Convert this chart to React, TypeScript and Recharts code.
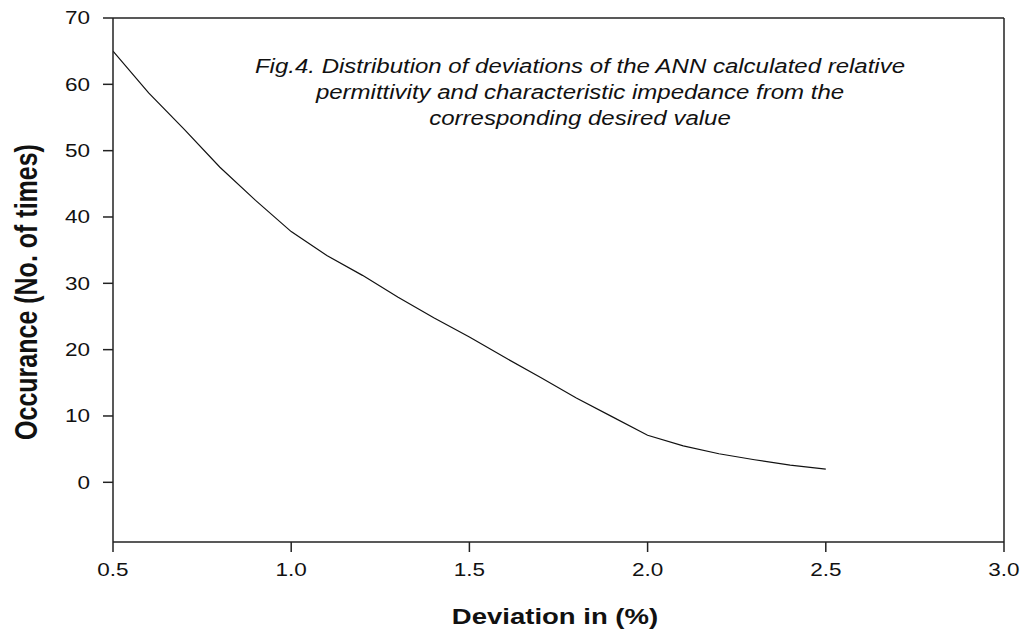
import { LineChart, Line, XAxis, YAxis, ReferenceLine } from "recharts";

// values
const deviation = [0.5, 0.6, 0.7, 0.8, 0.9, 1.0, 1.1, 1.2, 1.3, 1.4, 1.5, 1.6, 1.7, 1.8, 1.9, 2.0, 2.1, 2.2, 2.3, 2.4, 2.5];
const occurance = [65, 58.7, 53.2, 47.5, 42.5, 37.8, 34.2, 31.2, 27.9, 24.8, 21.9, 18.8, 15.8, 12.7, 9.9, 7.1, 5.5, 4.3, 3.4, 2.6, 2.0];
const xTicks = [0.5, 1.0, 1.5, 2.0, 2.5, 3.0];
const yTicks = [0, 10, 20, 30, 40, 50, 60, 70];
const titleLines = [
  "Fig.4. Distribution of deviations of the ANN calculated relative",
  "permittivity and characteristic impedance from the",
  "corresponding desired value",
];

const data = deviation.map((d, i) => ({ d, v: occurance[i] }));

const FONT = "'Liberation Sans', Arial, sans-serif";
const STRETCH = 1.25;

const XTick = (props: any) => {
  const { x, y, payload } = props;
  return (
    <g transform={`translate(${x},${y})`}>
      <text textAnchor="middle" dy="0.71em" fontSize={18} fontFamily={FONT} fill="#111" transform={`scale(${STRETCH},1)`}>
        {Number(payload.value).toFixed(1)}
      </text>
    </g>
  );
};

const YTick = (props: any) => {
  const { x, y, payload } = props;
  return (
    <g transform={`translate(${x},${y})`}>
      <text textAnchor="end" dy="0.355em" fontSize={18} fontFamily={FONT} fill="#111" transform={`scale(${STRETCH},1)`}>
        {payload.value}
      </text>
    </g>
  );
};

export default function App() {
  return (
    <div style={{ position: "absolute", left: 0, top: 0, width: 1026, height: 632, background: "#fff", fontFamily: FONT }}>
      <LineChart width={1026} height={632} data={data} margin={{ top: 18, right: 22, bottom: 30, left: 53 }}>
        <XAxis
          dataKey="d"
          type="number"
          domain={[0.5, 3.0]}
          ticks={xTicks}
          allowDataOverflow
          stroke="#222"
          strokeWidth={1.5}
          tickSize={10}
          tickMargin={11}
          height={60}
          tick={<XTick />}
        />
        <YAxis
          type="number"
          domain={[-9, 70]}
          ticks={yTicks}
          allowDataOverflow
          stroke="#222"
          strokeWidth={1.5}
          tickSize={10}
          tickMargin={13}
          width={60}
          tick={<YTick />}
        />
        <ReferenceLine y={70} stroke="#222" strokeWidth={1.5} ifOverflow="visible" />
        <ReferenceLine x={3.0} stroke="#222" strokeWidth={1.5} ifOverflow="visible" />
        <Line type="linear" dataKey="v" stroke="#111" strokeWidth={1.2} dot={false} isAnimationActive={false} />
      </LineChart>

      <div
        style={{
          position: "absolute",
          left: 580,
          top: 53,
          transform: "translateX(-50%) scaleX(1.2)",
          textAlign: "center",
          whiteSpace: "nowrap",
          fontStyle: "italic",
          fontSize: 20,
          lineHeight: "26px",
          color: "#111",
        }}
      >
        {titleLines.map((t) => (
          <div key={t}>{t}</div>
        ))}
      </div>

      <div
        style={{
          position: "absolute",
          left: 555,
          top: 617,
          transform: `translate(-50%,-50%) scaleX(${STRETCH})`,
          whiteSpace: "nowrap",
          fontWeight: "bold",
          fontSize: 22,
          color: "#111",
        }}
      >
        Deviation in (%)
      </div>

      <div
        style={{
          position: "absolute",
          left: 26,
          top: 292,
          transform: `translate(-50%,-50%) rotate(-90deg) scaleY(${STRETCH})`,
          whiteSpace: "nowrap",
          fontWeight: "bold",
          fontSize: 25,
          color: "#111",
        }}
      >
        Occurance (No. of times)
      </div>
    </div>
  );
}
